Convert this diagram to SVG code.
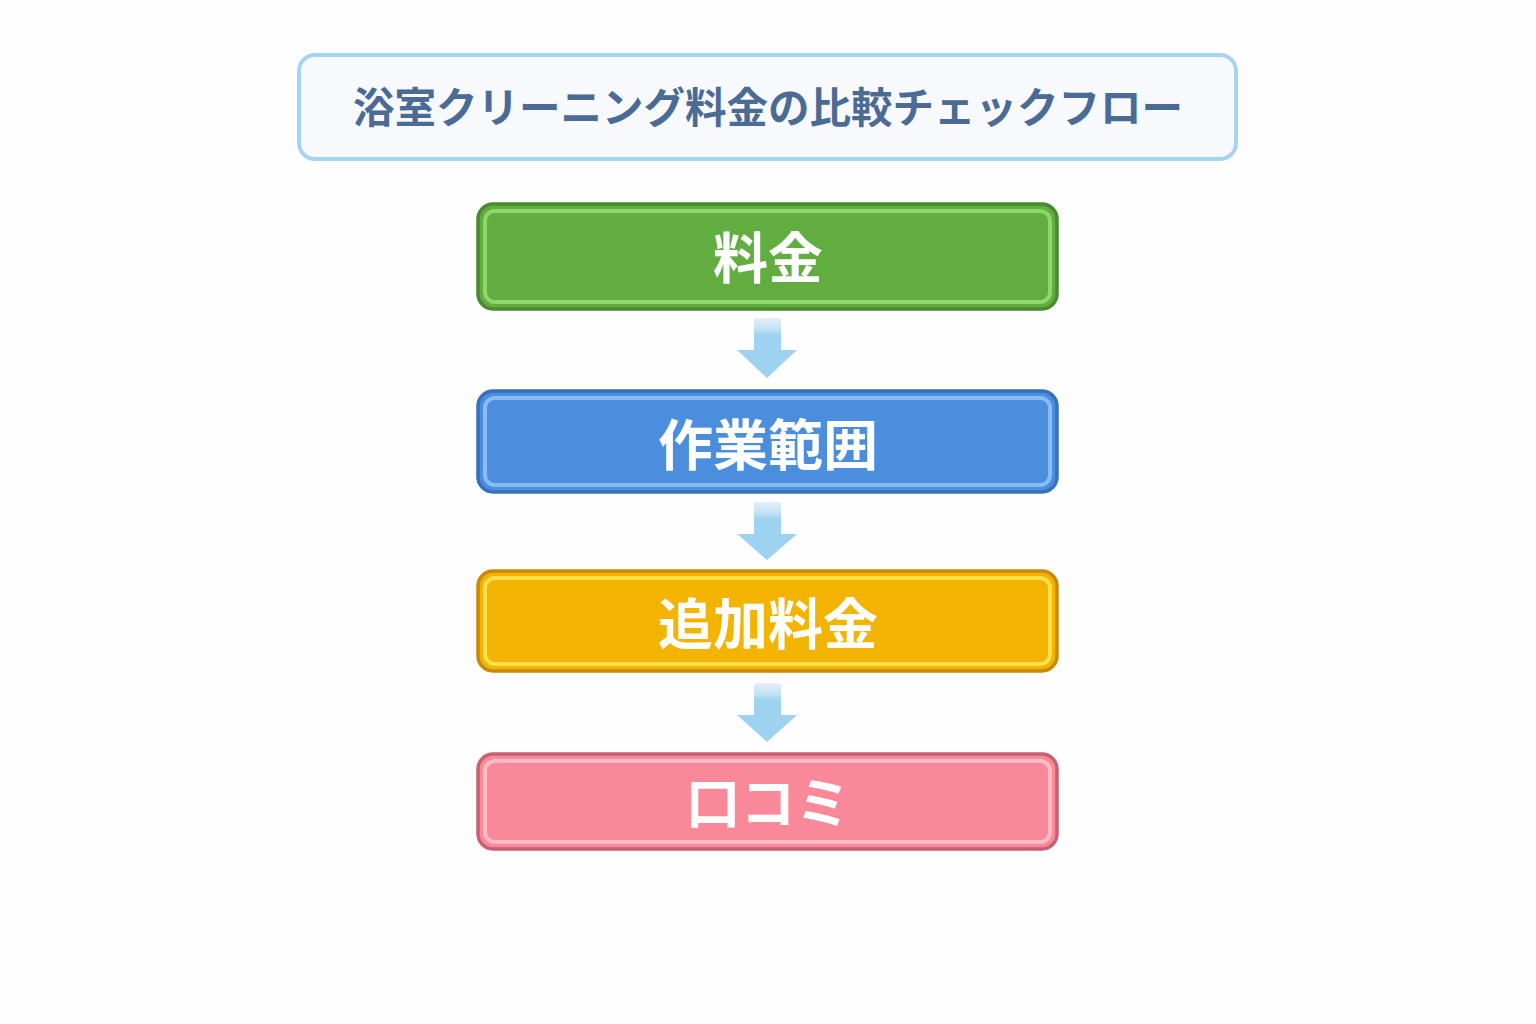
<svg xmlns="http://www.w3.org/2000/svg" width="1536" height="1024" viewBox="0 0 1536 1024">
<defs>
<style>
.t{font-family:"Noto Sans CJK JP","Noto Sans CJK SC",sans-serif;font-weight:700;text-anchor:middle;dominant-baseline:central}
.title{font-size:41.5px;fill:#4a6b95}
.nt{font-size:55px;fill:#ffffff}
.arrow{fill:#9dd3f0}
</style>
<linearGradient id="shaft" x1="0" y1="0" x2="0" y2="1">
<stop offset="0" stop-color="#e4f1f8"/>
<stop offset="0.35" stop-color="#bfe0f3"/>
<stop offset="0.5" stop-color="#9dd3f0"/>
<stop offset="1" stop-color="#9dd3f0"/>
</linearGradient>
</defs>
<rect width="1536" height="1024" fill="#fefefe"/>
<g id="title">
<rect x="299" y="55" width="937" height="104" rx="16" fill="#f7f9fd" stroke="#a5d4f3" stroke-width="4"/>
<text class="t title" x="768" y="105">浴室クリーニング料金の比較チェックフロー</text>
</g>
<g id="connectors">
<g class="arrow">
<rect x="754" y="318" width="27" height="34" fill="url(#shaft)"/>
<polygon points="737,350 797,350 767,378"/>
</g>
<g class="arrow">
<rect x="754" y="502" width="27" height="34" fill="url(#shaft)"/>
<polygon points="737,534 797,534 767,560"/>
</g>
<g class="arrow">
<rect x="754" y="683" width="27" height="34" fill="url(#shaft)"/>
<polygon points="737,715 797,715 767,742"/>
</g>
</g>
<g id="node1">
<rect x="478" y="204" width="579" height="105" rx="15" fill="#62ad40" stroke="#4a8a2e" stroke-width="3.5"/>
<rect x="485" y="211" width="565" height="91" rx="10" fill="none" stroke="#8fd66d" stroke-width="4"/>
<text class="t nt" x="768" y="254">料金</text>
</g>
<g id="node2">
<rect x="478" y="391" width="579" height="101" rx="15" fill="#4a8edd" stroke="#3571bd" stroke-width="3.5"/>
<rect x="485" y="398" width="565" height="87" rx="10" fill="none" stroke="#88bcf2" stroke-width="4"/>
<text class="t nt" x="768" y="441">作業範囲</text>
</g>
<g id="node3">
<rect x="478" y="571" width="579" height="100" rx="15" fill="#f2b400" stroke="#c8890a" stroke-width="3.5"/>
<rect x="485" y="578" width="565" height="86" rx="10" fill="none" stroke="#ffdf4a" stroke-width="4"/>
<text class="t nt" x="768" y="620">追加料金</text>
</g>
<g id="node4">
<rect x="478" y="754" width="579" height="95" rx="15" fill="#f98898" stroke="#c8606f" stroke-width="3.5"/>
<rect x="485" y="761" width="565" height="81" rx="10" fill="none" stroke="#ffbcc6" stroke-width="4"/>
<text class="t nt" x="768" y="799">口コミ</text>
</g>
</svg>
